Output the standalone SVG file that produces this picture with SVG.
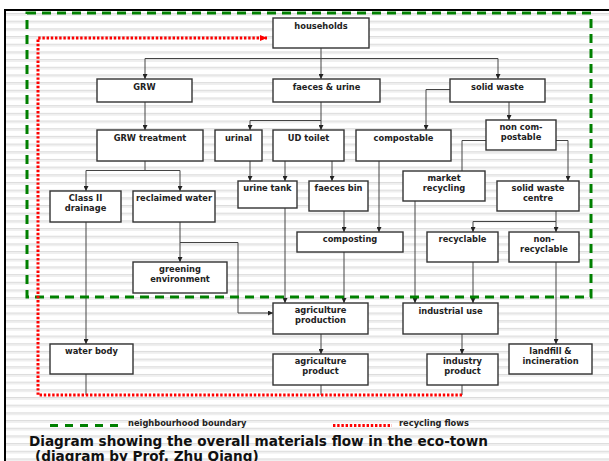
<svg xmlns="http://www.w3.org/2000/svg" width="609" height="461" viewBox="0 0 609 461">
<defs>
<pattern id="stripes" patternUnits="userSpaceOnUse" x="0" y="5.32" width="10" height="7.68">
<rect x="0" y="0" width="10" height="1.2" fill="#dcdcdc"/>
<rect x="0" y="1.2" width="10" height="1.5" fill="#ececec"/>
</pattern>
<marker id="arr" viewBox="0 0 5 5" refX="5" refY="2.5" markerWidth="5" markerHeight="5" markerUnits="userSpaceOnUse" orient="auto">
<path d="M0,0 L5,2.5 L0,5 z" fill="#222"/>
</marker>
<marker id="rarr" viewBox="0 0 7 6" refX="7" refY="3" markerWidth="7" markerHeight="6" markerUnits="userSpaceOnUse" orient="auto">
<path d="M0,0 L7,3 L0,6 z" fill="#ff0000"/>
</marker>
</defs>
<style>
.box rect{fill:#fff;stroke:#333;stroke-width:1.4}
.box text,.lbl{font-family:"DejaVu Sans",Verdana,sans-serif;font-weight:bold;font-size:8.3px;fill:#222;text-anchor:middle}
.lbl{text-anchor:start}
#connectors path{fill:none;stroke:#444;stroke-width:1}
.arr{marker-end:url(#arr)}
.green{fill:none;stroke:#008000;stroke-width:3;stroke-dasharray:9,6}
.red{fill:none;stroke:#ff0000;stroke-width:3;stroke-dasharray:2.4,1.8}
.title{font-family:"DejaVu Sans",Verdana,sans-serif;font-weight:bold;font-size:13.6px;fill:#111}
</style>
<rect x="0" y="0" width="609" height="461" fill="#fff"/>
<rect x="5" y="10" width="604" height="451" fill="url(#stripes)"/>
<rect x="4" y="9" width="605" height="2" fill="#000"/>
<rect x="4" y="9" width="2" height="452" fill="#000"/>

<g id="connectors">
<path class="arr" d="M321,48 V79"/>
<path d="M145,58.5 H498"/>
<path class="arr" d="M145,58.5 V79"/>
<path class="arr" d="M498,58.5 V79"/>
<path class="arr" d="M145,102 V130"/>
<path class="arr" d="M321,102 V130"/>
<path d="M250,120.5 H321"/>
<path class="arr" d="M250,120.5 V130"/>
<path class="arr" d="M450,89.5 H426 V130"/>
<path class="arr" d="M509,102 V120"/>
<path d="M145,161 V170.5"/>
<path d="M86,170.5 H180"/>
<path class="arr" d="M86,170.5 V191"/>
<path class="arr" d="M180,170.5 V191"/>
<path class="arr" d="M250,161 V181"/>
<path class="arr" d="M285,161 V181"/>
<path class="arr" d="M332,161 V181"/>
<path class="arr" d="M379,161 V232"/>
<path class="arr" d="M344,211 V232"/>
<path d="M486,140.5 H462 V171"/>
<path class="arr" d="M556,140.5 H568 V181"/>
<path d="M556,211 V221.5"/>
<path d="M473,221.5 H556"/>
<path class="arr" d="M473,221.5 V232"/>
<path class="arr" d="M556,221.5 V232"/>
<path class="arr" d="M86,222 V344"/>
<path class="arr" d="M180,222 V262"/>
<path class="arr" d="M180,242.5 H238 V313 H273"/>
<path class="arr" d="M285,208 V303"/>
<path class="arr" d="M344,252 V303"/>
<path class="arr" d="M415,201 V303"/>
<path class="arr" d="M473,262 V303"/>
<path class="arr" d="M556,262 V344"/>
<path class="arr" d="M321,334 V354"/>
<path class="arr" d="M462,334 V354"/>
<path d="M86,374 V395"/>
<path d="M321,385 V395"/>
<path d="M462,385 V395"/>
</g>

<g id="households" class="box"><rect x="273" y="18" width="96" height="30"/><text x="321" y="28.5">households</text></g>
<g id="grw" class="box"><rect x="97" y="79" width="95" height="23"/><text x="144.5" y="90">GRW</text></g>
<g id="faeces-urine" class="box"><rect x="273" y="79" width="107" height="23"/><text x="326.5" y="90">faeces &amp; urine</text></g>
<g id="solid-waste" class="box"><rect x="450" y="79" width="95" height="23"/><text x="497.5" y="90">solid waste</text></g>
<g id="grw-treatment" class="box"><rect x="97" y="130" width="106" height="31"/><text x="150" y="140.5">GRW treatment</text></g>
<g id="urinal" class="box"><rect x="215" y="130" width="47" height="31"/><text x="238.5" y="140.5">urinal</text></g>
<g id="ud-toilet" class="box"><rect x="273" y="130" width="71" height="31"/><text x="308.5" y="140.5">UD toilet</text></g>
<g id="compostable" class="box"><rect x="356" y="130" width="95" height="31"/><text x="403.5" y="140.5">compostable</text></g>
<g id="non-compostable" class="box"><rect x="486" y="120" width="70" height="30"/><text x="521" y="130">non com-</text><text x="521" y="140">postable</text></g>
<g id="class-ii-drainage" class="box"><rect x="50" y="191" width="71" height="31"/><text x="85.5" y="201">Class II</text><text x="85.5" y="211">drainage</text></g>
<g id="reclaimed-water" class="box"><rect x="133" y="191" width="82" height="31"/><text x="174" y="201">reclaimed water</text></g>
<g id="urine-tank" class="box"><rect x="238" y="181" width="59" height="27"/><text x="267.5" y="191">urine tank</text></g>
<g id="faeces-bin" class="box"><rect x="309" y="181" width="59" height="30"/><text x="338.5" y="191">faeces bin</text></g>
<g id="market-recycling" class="box"><rect x="403" y="171" width="82" height="30"/><text x="444" y="181">market</text><text x="444" y="191">recycling</text></g>
<g id="solid-waste-centre" class="box"><rect x="497" y="181" width="82" height="30"/><text x="538" y="191">solid waste</text><text x="538" y="201">centre</text></g>
<g id="composting" class="box"><rect x="297" y="232" width="106" height="20"/><text x="350" y="242">composting</text></g>
<g id="recyclable" class="box"><rect x="427" y="232" width="71" height="30"/><text x="462.5" y="242">recyclable</text></g>
<g id="non-recyclable" class="box"><rect x="509" y="232" width="70" height="30"/><text x="544" y="242">non-</text><text x="544" y="252">recyclable</text></g>
<g id="greening-environment" class="box"><rect x="133" y="262" width="94" height="31"/><text x="180" y="272">greening</text><text x="180" y="282">environment</text></g>
<g id="agriculture-production" class="box"><rect x="273" y="303" width="95" height="31"/><text x="320.5" y="313">agriculture</text><text x="320.5" y="323">production</text></g>
<g id="industrial-use" class="box"><rect x="403" y="303" width="95" height="31"/><text x="450.5" y="314">industrial use</text></g>
<g id="water-body" class="box"><rect x="50" y="344" width="83" height="30"/><text x="91.5" y="354">water body</text></g>
<g id="agriculture-product" class="box"><rect x="273" y="354" width="95" height="31"/><text x="320.5" y="364">agriculture</text><text x="320.5" y="374">product</text></g>
<g id="industry-product" class="box"><rect x="427" y="354" width="71" height="31"/><text x="462.5" y="364">industry</text><text x="462.5" y="374">product</text></g>
<g id="landfill-incineration" class="box"><rect x="509" y="344" width="83" height="30"/><text x="550.5" y="354">landfill &amp;</text><text x="550.5" y="364">incineration</text></g>

<g id="boundaries">
<rect class="green" x="27" y="13" width="564" height="284"/>
<path class="red" d="M462,395 H38 V38 H267" marker-end="url(#rarr)"/>
</g>

<g id="legend">
<path d="M50,425.5 H120" fill="none" stroke="#008000" stroke-width="3" stroke-dasharray="8,7"/>
<text class="lbl" x="128" y="426">neighbourhood boundary</text>
<path d="M333,425.5 H392" fill="none" stroke="#ff0000" stroke-width="3" stroke-dasharray="2.4,1.8"/>
<text class="lbl" x="399" y="426">recycling flows</text>
</g>
<text class="title" x="29" y="446">Diagram showing the overall materials flow in the eco-town</text>
<text class="title" x="35" y="460.5">(diagram by Prof. Zhu Qiang)</text>
</svg>
